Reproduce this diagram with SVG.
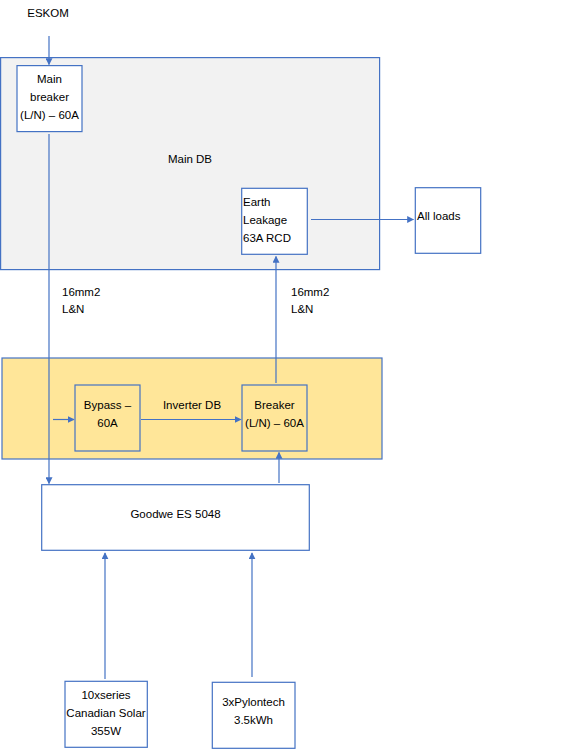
<svg xmlns="http://www.w3.org/2000/svg" width="567" height="750" viewBox="0 0 567 750">
<style>
.box{fill:#ffffff;stroke:#4472C4;stroke-width:1.2}
.gbox{fill:#F2F2F2;stroke:#4472C4;stroke-width:1.2}
.ybox{fill:#FFE699;stroke:#4472C4;stroke-width:1.2}
.t{font-family:"Liberation Sans",Arial,sans-serif;font-size:11.5px;fill:#000}
.c{text-anchor:middle}
.ln{stroke:#4472C4;stroke-width:1.2;fill:none;marker-end:url(#ah)}
</style>
<defs>
<marker id="ah" viewBox="0 0 10 10" refX="9" refY="5" markerWidth="7" markerHeight="7" markerUnits="userSpaceOnUse" orient="auto">
<path d="M0,0 L10,5 L0,10 Z" fill="#4472C4"/>
</marker>
</defs>
<rect width="567" height="750" fill="#ffffff"/>
<g id="eskom"><text class="t" x="48" y="17" text-anchor="middle">ESKOM</text></g>
<g id="main-db"><rect class="gbox" x="0.6" y="57.6" width="379" height="212"/><text class="t c" x="190" y="163">Main DB</text></g>
<g id="inverter-db"><rect class="ybox" x="2" y="358" width="380" height="101"/><text class="t c" x="192" y="409">Inverter DB</text></g>
<g id="main-breaker"><rect class="box" x="17" y="65.6" width="65" height="66"/>
<text class="t c" x="49.5" y="83">Main</text><text class="t c" x="49.5" y="101">breaker</text><text class="t c" x="49.5" y="119">(L/N) – 60A</text></g>
<g id="rcd"><rect class="box" x="241.7" y="188.3" width="65.6" height="66"/>
<text class="t" x="243" y="206">Earth</text><text class="t" x="243" y="224">Leakage</text><text class="t" x="243" y="242">63A RCD</text></g>
<g id="all-loads"><rect class="box" x="415.3" y="187.7" width="65.4" height="65.6"/><text class="t" x="417" y="220">All loads</text></g>
<g id="bypass"><rect class="ybox" x="75" y="385" width="65" height="66"/>
<text class="t c" x="107.5" y="409">Bypass –</text><text class="t c" x="107.5" y="427">60A</text></g>
<g id="breaker"><rect class="ybox" x="242" y="385" width="65" height="66"/>
<text class="t c" x="274.5" y="409">Breaker</text><text class="t c" x="274.5" y="427">(L/N) – 60A</text></g>
<g id="goodwe"><rect class="box" x="41.7" y="484.7" width="267.6" height="65.6"/><text class="t c" x="175.5" y="518">Goodwe ES 5048</text></g>
<g id="solar"><rect class="box" x="65" y="681.3" width="82.3" height="66"/>
<text class="t c" x="106" y="699">10xseries</text><text class="t c" x="106" y="717">Canadian Solar</text><text class="t c" x="106" y="735">355W</text></g>
<g id="battery"><rect class="box" x="212.3" y="682.3" width="82.7" height="66"/>
<text class="t c" x="253.5" y="706">3xPylontech</text><text class="t c" x="253.5" y="724">3.5kWh</text></g>
<g id="connectors">
<line class="ln" x1="49" y1="36" x2="49" y2="64.5"/>
<line class="ln" x1="49" y1="134" x2="49" y2="483.5"/>
<line class="ln" x1="311" y1="219.5" x2="413.5" y2="219.5"/>
<line class="ln" x1="276" y1="383" x2="276" y2="256.5"/>
<line class="ln" x1="53" y1="419.5" x2="74" y2="419.5"/>
<line class="ln" x1="141" y1="419.5" x2="241" y2="419.5"/>
<line class="ln" x1="279" y1="483" x2="279" y2="452.5"/>
<line class="ln" x1="105" y1="679" x2="105" y2="553"/>
<line class="ln" x1="252" y1="677" x2="252" y2="553"/>
</g>
<g id="labels">
<text class="t" x="62" y="296">16mm2</text><text class="t" x="62" y="313">L&amp;N</text>
<text class="t" x="291" y="296">16mm2</text><text class="t" x="291" y="313">L&amp;N</text>
</g>
</svg>
